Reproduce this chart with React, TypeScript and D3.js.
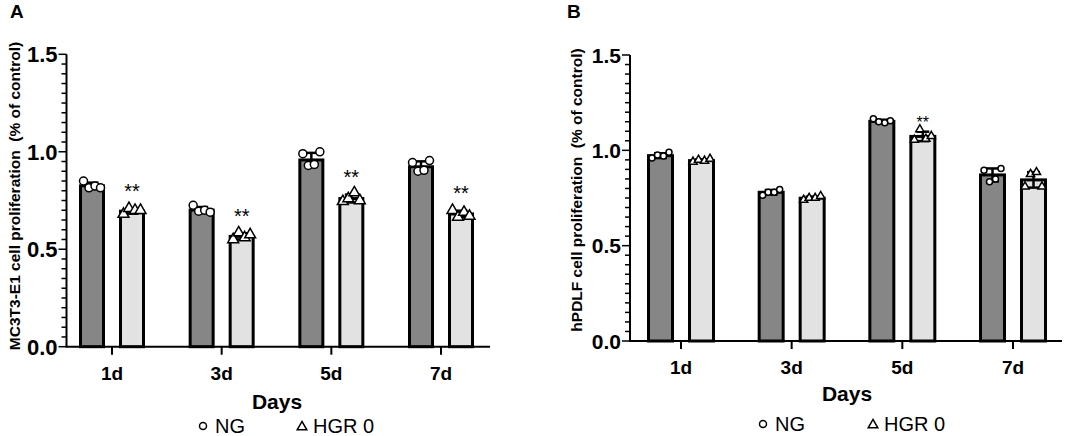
import { useEffect, useRef } from "react";
import * as d3 from "d3";

// Dias do experimento
const DAYS = ["1d", "3d", "5d", "7d"];
const Y_TICKS = [0, 0.5, 1.0, 1.5];

// Painel A - MC3T3-E1 (médias e pontos individuais)
const A_NG_MEAN = [0.825, 0.701, 0.958, 0.923];
const A_HGR_MEAN = [0.695, 0.566, 0.76, 0.681];
const A_NG_POINTS = [
  [0.85, 0.815, 0.825, 0.815],
  [0.725, 0.695, 0.7, 0.69],
  [0.99, 0.93, 0.935, 1.0],
  [0.945, 0.9, 0.905, 0.955],
];
const A_HGR_POINTS = [
  [0.68, 0.71, 0.7, 0.7],
  [0.55, 0.585, 0.56, 0.575],
  [0.745, 0.76, 0.79, 0.75],
  [0.7, 0.665, 0.69, 0.67],
];
const A_SIG = ["**", "**", "**", "**"];

// Painel B - hPDLF
const B_NG_MEAN = [0.972, 0.78, 1.152, 0.871];
const B_HGR_MEAN = [0.946, 0.749, 1.073, 0.845];
const B_NG_POINTS = [
  [0.96, 0.975, 0.97, 0.99],
  [0.765, 0.78, 0.78, 0.795],
  [1.165, 1.15, 1.145, 1.155],
  [0.895, 0.835, 0.85, 0.905],
];
const B_HGR_POINTS = [
  [0.94, 0.95, 0.945, 0.955],
  [0.74, 0.75, 0.75, 0.76],
  [1.055, 1.11, 1.06, 1.075],
  [0.81, 0.875, 0.885, 0.81],
];
const B_SIG = ["", "", "**", ""];

const COR_NG = "#868686";
const COR_HGR = "#e2e2e2";
const FONTE = "Arial, 'Liberation Sans', Helvetica, sans-serif";

interface PanelCfg {
  letter: string;
  letterX: number;
  yLabel: string;
  yLabelX: number;
  yLabelY: number;
  axisX: number;
  axisRight: number;
  yTop: number;
  yZero: number;
  firstTick: number;
  lastTick: number;
  barOffset: number;
  barWidth: number;
  markerR: number;
  tickFont: number;
  xLabelY: number;
  daysX: number;
  daysY: number;
  sigFont: number;
  sigGap: number;
  legendY: number;
  legendNG: number;
  legendHGR: number;
  ngMean: number[];
  hgrMean: number[];
  ngPts: number[][];
  hgrPts: number[][];
  sig: string[];
}

const PANELS: PanelCfg[] = [
  {
    letter: "A", letterX: 10,
    yLabel: "MC3T3-E1 cell proliferation  (% of control)", yLabelX: 20, yLabelY: 196,
    axisX: 66.5, axisRight: 490, yTop: 54.3, yZero: 346.7,
    firstTick: 112, lastTick: 441, barOffset: 20, barWidth: 23,
    markerR: 4, tickFont: 22, xLabelY: 380, daysX: 277, daysY: 409,
    sigFont: 20, sigGap: 22,
    legendY: 426, legendNG: 203, legendHGR: 302,
    ngMean: A_NG_MEAN, hgrMean: A_HGR_MEAN, ngPts: A_NG_POINTS, hgrPts: A_HGR_POINTS, sig: A_SIG,
  },
  {
    letter: "B", letterX: 567,
    yLabel: "hPDLF cell proliferation  (% of control)", yLabelX: 582, yLabelY: 190,
    axisX: 630, axisRight: 1062, yTop: 55, yZero: 341,
    firstTick: 681, lastTick: 1013, barOffset: 20.5, barWidth: 24,
    markerR: 3, tickFont: 21, xLabelY: 374, daysX: 847, daysY: 401,
    sigFont: 16, sigGap: 13,
    legendY: 424, legendNG: 763, legendHGR: 873,
    ngMean: B_NG_MEAN, hgrMean: B_HGR_MEAN, ngPts: B_NG_POINTS, hgrPts: B_HGR_POINTS, sig: B_SIG,
  },
];

const PT_OFFSETS = [-8.5, -3, 3, 8.5];

const App = () => {
  const svgRef = useRef<SVGSVGElement>(null);

  useEffect(() => {
    if (!svgRef.current) return;
    const svg = d3.select(svgRef.current);
    svg.selectAll("*").remove();

    const triangle = d3.symbol().type(d3.symbolTriangle);

    PANELS.forEach((p) => {
      const g = svg.append("g").style("font-family", FONTE);

      const y = d3.scaleLinear().domain([0, 1.5]).range([p.yZero, p.yTop]);
      const x = d3.scalePoint<string>().domain(DAYS).range([p.firstTick, p.lastTick]);

      // Letra do painel
      g.append("text")
        .attr("x", p.letterX)
        .attr("y", 18)
        .style("font-size", "19px")
        .style("font-weight", "700")
        .text(p.letter);

      // Barras, erros, pontos
      const series = [
        { mean: p.ngMean, pts: p.ngPts, fill: COR_NG, dx: -p.barOffset, shape: "circle" },
        { mean: p.hgrMean, pts: p.hgrPts, fill: COR_HGR, dx: p.barOffset, shape: "triangle" },
      ];

      series.forEach((s) => {
        DAYS.forEach((day, i) => {
          const cx = (x(day) ?? 0) + s.dx;
          const m = s.mean[i];
          const sd = d3.deviation(s.pts[i]) ?? 0;

          g.append("rect")
            .attr("x", cx - p.barWidth / 2)
            .attr("y", y(m))
            .attr("width", p.barWidth)
            .attr("height", p.yZero - y(m))
            .attr("fill", s.fill)
            .attr("stroke", "#000")
            .attr("stroke-width", 3);

          // Barra de erro (DP)
          g.append("line")
            .attr("x1", cx).attr("x2", cx)
            .attr("y1", y(m - sd)).attr("y2", y(m + sd))
            .attr("stroke", "#000").attr("stroke-width", 2.5);
          [m - sd, m + sd].forEach((v) => {
            g.append("line")
              .attr("x1", cx - 6.5).attr("x2", cx + 6.5)
              .attr("y1", y(v)).attr("y2", y(v))
              .attr("stroke", "#000").attr("stroke-width", 2.5);
          });

          s.pts[i].forEach((v, k) => {
            const px = cx + PT_OFFSETS[k];
            if (s.shape === "circle") {
              g.append("circle")
                .attr("cx", px).attr("cy", y(v)).attr("r", p.markerR)
                .attr("fill", "#fff").attr("stroke", "#000").attr("stroke-width", 1.5);
            } else {
              g.append("path")
                .attr("d", triangle.size(p.markerR * p.markerR * 3.2)())
                .attr("transform", `translate(${px},${y(v)})`)
                .attr("fill", "#fff").attr("stroke", "#000").attr("stroke-width", 1.5);
            }
          });

          // Significância
          if (s.shape === "triangle" && p.sig[i]) {
            g.append("text")
              .attr("x", cx)
              .attr("y", y(m + sd) - p.sigGap + p.sigFont * 0.58)
              .attr("text-anchor", "middle")
              .style("font-size", `${p.sigFont}px`)
              .text(p.sig[i]);
          }
        });
      });

      // Eixo Y
      g.append("line")
        .attr("x1", p.axisX).attr("x2", p.axisX)
        .attr("y1", p.yTop).attr("y2", p.yZero)
        .attr("stroke", "#000").attr("stroke-width", 2);
      d3.range(0, 1.5001, 0.05).forEach((t) => {
        const major = Math.abs(t * 2 - Math.round(t * 2)) < 1e-6;
        g.append("line")
          .attr("x1", p.axisX - (major ? 8 : 5)).attr("x2", p.axisX)
          .attr("y1", y(t)).attr("y2", y(t))
          .attr("stroke", "#000").attr("stroke-width", 1.5);
      });
      Y_TICKS.forEach((t) => {
        g.append("text")
          .attr("x", p.axisX - 9)
          .attr("y", y(t) + p.tickFont * 0.36)
          .attr("text-anchor", "end")
          .style("font-size", `${p.tickFont}px`)
          .style("font-weight", "700")
          .text(t.toFixed(1));
      });

      // Label do eixo Y
      g.append("text")
        .attr("transform", `translate(${p.yLabelX},${p.yLabelY}) rotate(-90)`)
        .attr("text-anchor", "middle")
        .style("font-size", "15.5px")
        .style("font-weight", "700")
        .style("white-space", "pre")
        .text(p.yLabel);

      // Eixo X
      g.append("line")
        .attr("x1", p.axisX - 1).attr("x2", p.axisRight)
        .attr("y1", p.yZero).attr("y2", p.yZero)
        .attr("stroke", "#000").attr("stroke-width", 2);
      DAYS.forEach((day) => {
        const tx = x(day) ?? 0;
        g.append("line")
          .attr("x1", tx).attr("x2", tx)
          .attr("y1", p.yZero).attr("y2", p.yZero + 8)
          .attr("stroke", "#000").attr("stroke-width", 2);
        g.append("text")
          .attr("x", tx)
          .attr("y", p.xLabelY)
          .attr("text-anchor", "middle")
          .style("font-size", "19px")
          .style("font-weight", "700")
          .text(day);
      });

      g.append("text")
        .attr("x", p.daysX)
        .attr("y", p.daysY)
        .attr("text-anchor", "middle")
        .style("font-size", "21px")
        .style("font-weight", "700")
        .text("Days");

      // Legenda
      g.append("circle")
        .attr("cx", p.legendNG).attr("cy", p.legendY).attr("r", 3.5)
        .attr("fill", "#fff").attr("stroke", "#000").attr("stroke-width", 1.5);
      g.append("text")
        .attr("x", p.legendNG + 12)
        .attr("y", p.legendY + 7)
        .style("font-size", "20px")
        .text("NG");
      g.append("path")
        .attr("d", triangle.size(40)())
        .attr("transform", `translate(${p.legendHGR},${p.legendY + 1})`)
        .attr("fill", "#fff").attr("stroke", "#000").attr("stroke-width", 1.5);
      g.append("text")
        .attr("x", p.legendHGR + 11)
        .attr("y", p.legendY + 7)
        .style("font-size", "20px")
        .text("HGR 0");
    });
  }, []);

  return (
    <svg
      ref={svgRef}
      width={1065}
      height={436}
      style={{ position: "absolute", left: 0, top: 0, background: "#fff" }}
    />
  );
};

export default App;
